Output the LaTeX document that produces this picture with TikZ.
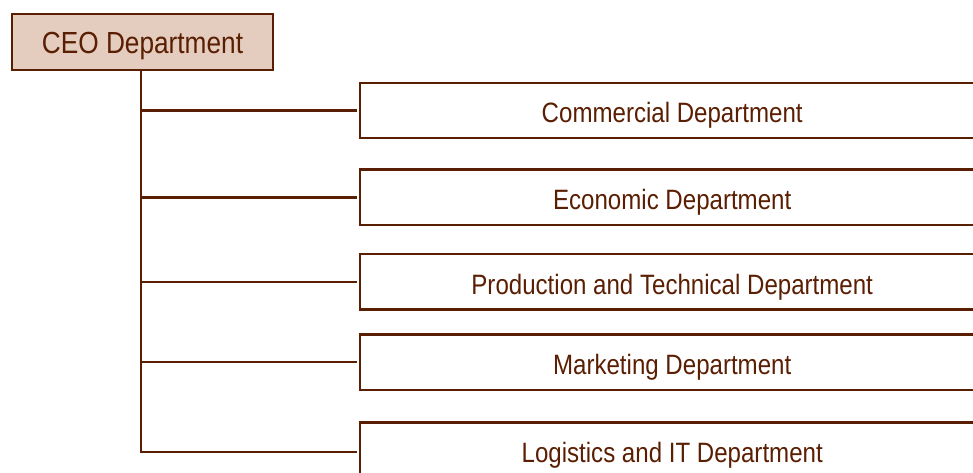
\documentclass[tikz,border=0pt]{standalone}
\usepackage{fontspec}
\usepackage{tikz}
\usetikzlibrary{positioning}
\newfontfamily\orgfont{Liberation Sans}[FakeStretch=0.86]
\definecolor{orgbrown}{HTML}{5A1E02}
\definecolor{orgfill}{HTML}{E4CDBF}

\begin{document}
\begin{tikzpicture}[x=1pt, y=1pt,
ceonode/.style={rectangle, draw=orgbrown, fill=orgfill, line width=2.5pt, text=orgbrown, minimum width=261pt, minimum height=56pt, text height=24pt, text depth=0pt, font=\orgfont\fontsize{30.5}{34}\selectfont},
deptnode/.style={rectangle, draw=orgbrown, line width=2.4pt, text=orgbrown, minimum width=624pt, minimum height=55.5pt, text height=25pt, text depth=0pt, font=\orgfont\fontsize{28}{32}\selectfont},
link/.style={draw=orgbrown, line width=2.5pt, shorten >=2pt},
]
\path[use as bounding box, clip] (0,0) rectangle (973,-473);

%Nodes
\node[ceonode]   (ceo)   at (142.5,-42)              {CEO Department};
\node[deptnode]  (com)   [anchor=west] at (359,-110.5) {Commercial Department};
\node[deptnode]  (eco)   [below=29pt of com]  {Economic Department};
\node[deptnode]  (prod)  [below=26.5pt of eco] {Production and Technical Department};
\node[deptnode]  (mark)  [below=22.5pt of prod] {Marketing Department};
\node[deptnode]  (log)   [below=30pt of mark] {Logistics and IT Department};
\coordinate (trunk) at ([xshift=-1.5pt]ceo.south);

%Lines
\draw[link] (trunk) |- ([yshift=-2pt]log.west);
\draw[link] (trunk |- com.west)  -- (com.west);
\draw[link] (trunk |- eco.west)  -- (eco.west);
\draw[link] (trunk |- prod.west) -- (prod.west);
\draw[link] (trunk |- mark.west) -- (mark.west);

\end{tikzpicture}
\end{document}
